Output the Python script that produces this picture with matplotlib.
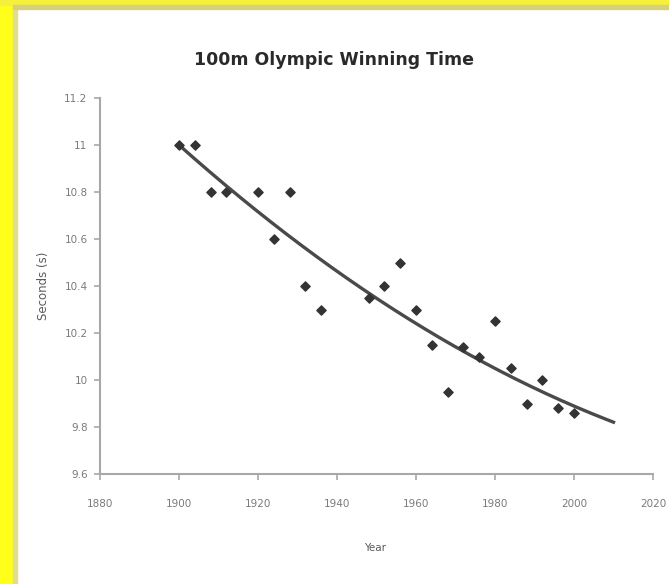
import numpy as np
import matplotlib
matplotlib.use("Agg")
import matplotlib.pyplot as plt
from matplotlib.patches import Rectangle

# winning times
years = [1900, 1904, 1908, 1912, 1920, 1924, 1928, 1932, 1936, 1948, 1952, 1956,
         1960, 1964, 1968, 1972, 1976, 1980, 1984, 1988, 1992, 1996, 2000]
times = [11.0, 11.0, 10.8, 10.8, 10.8, 10.6, 10.8, 10.4, 10.3, 10.35, 10.4, 10.5,
         10.3, 10.15, 9.95, 10.14, 10.1, 10.25, 10.05, 9.9, 10.0, 9.88, 9.86]

# 2nd order trendline as drawn on the chart, in (year - 1900)
trend_coef = [3.87e-5, -0.01498, 11.0]
trend_range = [1900, 2010]

xticks = [1880, 1900, 1920, 1940, 1960, 1980, 2000, 2020]
yticks = [9.6, 9.8, 10, 10.2, 10.4, 10.6, 10.8, 11, 11.2]
ytick_labels = ["9.6", "9.8", "10", "10.2", "10.4", "10.6", "10.8", "11", "11.2"]

fig = plt.figure(figsize=(6.69, 5.84), dpi=100)
fig.patch.set_facecolor("white")

# yellow frame around the slide crop
fig.patches.append(Rectangle((0, 0), 13 / 669, 1, transform=fig.transFigure,
                             color="#ffff1a", zorder=0))
fig.patches.append(Rectangle((13 / 669, 0), 4 / 669, 1, transform=fig.transFigure,
                             color="#e0dc90", zorder=0))
fig.patches.append(Rectangle((0, 1 - 5 / 584), 1, 5 / 584, transform=fig.transFigure,
                             color="#f5f03a", zorder=0))
fig.patches.append(Rectangle((13 / 669, 1 - 9 / 584), 1, 4 / 584, transform=fig.transFigure,
                             color="#d6cf80", zorder=0))

ax = fig.add_axes([100 / 669, 110 / 584, 553 / 669, 376 / 584])

ax.scatter(years, times, marker="D", s=22, color="#333333", zorder=3)

xs = np.linspace(trend_range[0], trend_range[1], 200)
ax.plot(xs, np.polyval(trend_coef, xs - 1900), color="#4a4a4a", lw=2.4, zorder=2)

ax.set_xlim(1880, 2020)
ax.set_ylim(9.6, 11.2)
ax.set_xticks(xticks)
ax.set_yticks(yticks)
ax.set_yticklabels(ytick_labels)

for s in ["top", "right"]:
    ax.spines[s].set_visible(False)
for s in ["left", "bottom"]:
    ax.spines[s].set_color("#a8a8a8")
    ax.spines[s].set_linewidth(1.5)
ax.tick_params(colors="#a8a8a8", labelcolor="#7a7a7a", labelsize=7.5,
               length=4, width=1.2)
ax.tick_params(axis="x", pad=14)
ax.tick_params(axis="y", pad=5)

fig.text(0.5, 1 - 60 / 584, "100m Olympic Winning Time", ha="center", va="center",
         fontsize=12.5, fontweight="bold", color="#2a2a2a")
fig.text(375 / 669, 1 - 548 / 584, "Year", ha="center", va="center",
         fontsize=7.5, color="#5a5a5a")
fig.text(43 / 669, 1 - 286 / 584, "Seconds (s)", ha="center", va="center",
         rotation=90, fontsize=8.5, color="#5a5a5a")

fig.savefig("out.png", dpi=100)
